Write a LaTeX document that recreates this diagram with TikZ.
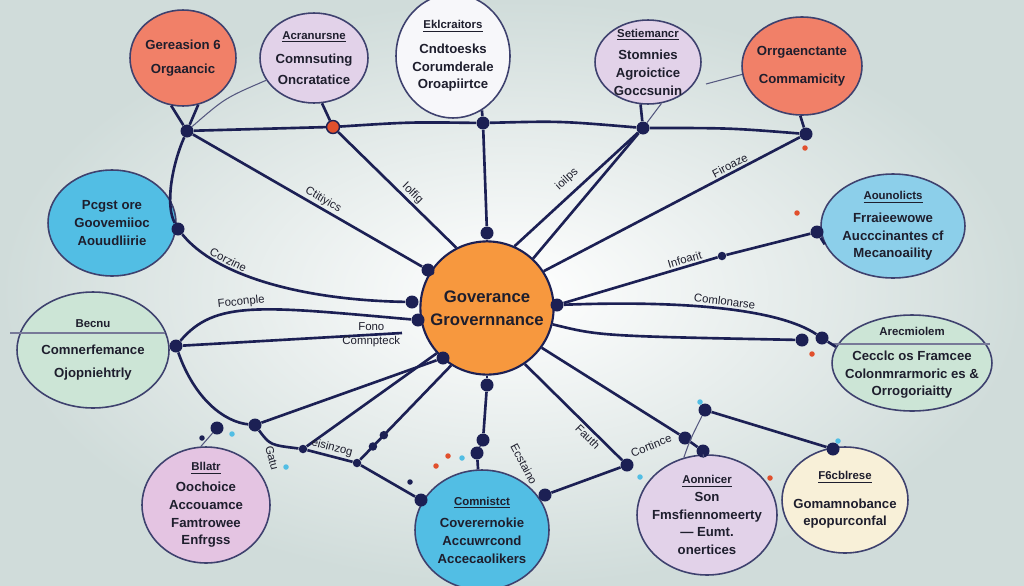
\documentclass[tikz,border=0pt]{standalone}
\usepackage{fontspec}
\setmainfont{Liberation Sans}
\usetikzlibrary{shapes.geometric,calc}
\definecolor{navy}{RGB}{28,32,84}
\definecolor{ink}{RGB}{30,30,45}
\definecolor{salmon}{RGB}{241,128,104}
\definecolor{lilac}{RGB}{226,210,233}
\definecolor{pearl}{RGB}{247,247,250}
\definecolor{sky}{RGB}{82,190,228}
\definecolor{ice}{RGB}{140,207,234}
\definecolor{mint}{RGB}{204,229,214}
\definecolor{rose}{RGB}{228,196,226}
\definecolor{cream}{RGB}{248,240,216}
\definecolor{tangerine}{RGB}{247,152,62}
\definecolor{mist}{RGB}{208,220,218}
\definecolor{ember}{RGB}{225,80,45}
\newcommand{\hd}[1]{{\fontsize{6.5}{8}\selectfont\underline{#1}}}
\newcommand{\hn}[1]{{\fontsize{6.5}{8}\selectfont #1}}
\tikzset{
  bubble/.style={ellipse,draw=navy!85,line width=0.9pt,fill=#1,inner sep=0pt},
  bubble/.default=lilac,
  btext/.style={font=\fontsize{7.5}{10}\selectfont\bfseries,text=ink,align=center},
  hub/.style={circle,fill=navy,inner sep=0pt,minimum size=#1},
  hub/.default=2.6mm,
  link/.style={draw=navy,line width=1.5pt},
  wire/.style={draw=navy!75,line width=0.6pt},
  tag/.style={font=\fontsize{6.5}{8}\selectfont,text=ink,inner sep=1pt},
  lbl/.style={tag,sloped,above},
  speck/.style={circle,fill=#1,inner sep=0pt,minimum size=1.1mm},
  speck/.default=sky,
}

\begin{document}
\begin{tikzpicture}[x=0.02cm,y=-0.02cm]
  \useasboundingbox (0,0) rectangle (1024,585);
  \shade[inner color=white,outer color=mist] (0,0) rectangle (1024,585);
  % bubbles
  \foreach \x/\y/\rx/\ry/\c/\t [count=\i] in {
    183/58/53/48/salmon/{Gereasion 6\\[4pt]Orgaancic},
    314/58/54/45/lilac/{\hd{Acranursne}\\[4pt]Comnsuting\\[2pt]Oncratatice},
    453/56/57/62/pearl/{\hd{Eklcraitors}\\[4pt]Cndtoesks\\Corumderale\\Oroapiirtce},
    648/62/53/42/lilac/{\hd{Setiemancr}\\[3pt]Stomnies\\Agroictice\\Goccsunin},
    802/66/60/49/salmon/{Orrgaenctante\\[6pt]Commamicity},
    112/223/64/53/sky/{Pcgst ore\\Goovemiioc\\Aouudliirie},
    93/350/76/58/mint/{\hn{Becnu}\\[5pt]Comnerfemance\\[3pt]Ojopniehtrly},
    893/226/72/52/ice/{\hd{Aounolicts}\\[3pt]Frraieewowe\\Aucccinantes cf\\Mecanoaility},
    912/363/80/48/mint/{\hn{Arecmiolem}\\[4pt]Cecclc os Framcee\\Colonmrarmoric es \&\\Orrogoriaitty},
    206/505/64/58/rose/{\hd{Bllatr}\\[2pt]Oochoice\\Accouamce\\Famtrowee\\Enfrgss},
    482/530/67/60/sky/{\hd{Comnistct}\\[3pt]Coverernokie\\Accuwrcond\\Accecaolikers},
    707/515/70/60/lilac/{\hd{Aonnicer}\\Son\\Fmsfiennomeerty\\--- Eumt.\\onertices},
    845/500/63/53/cream/{\hd{F6cblrese}\\[6pt]Gomamnobance\\epopurconfal}}
  {
    \node[bubble=\c,minimum width=\rx*0.4mm,minimum height=\ry*0.4mm] (b\i) at (\x,\y) {};
    \node[btext] (t\i) at (b\i) {\t};
  }
  \draw[wire,navy!60] (10,333) -- (165,333);
  \draw[wire,navy!60] (833,344) -- (990,344);
  \node[circle,draw=navy,line width=1.2pt,fill=tangerine,minimum size=2.54cm,
    font=\fontsize{9.5}{13}\selectfont\bfseries,text=ink,align=center] (gov) at (487,308) {Goverance\\Grovernnance};
  % hubs
  \foreach \n/\x/\y in {h1/187/131,h3/483/123,h4/643/128,h5/806/134,h6/178/229,
    h7/176/346,h8/255/425,h11/817/232,h12/822/338,h12b/802/340,h14/705/410,
    h15/685/438,h16/703/451,h17/627/465,h18/833/449,h19/483/440,h20/477/453,
    h21/545/495,h22/421/500,h23/217/428,c1/487/233,c2/428/270,c3/412/302,c3b/418/320,
    c4/557/305,c5/487/385,c6/443/358}
    \node[hub] (\n) at (\x,\y) {};
  \foreach \n/\x/\y in {h9/303/449,h10/357/463,h13/722/256}
    \node[hub=1.7mm] (\n) at (\x,\y) {};
  \node[hub,fill=ember,draw=navy,line width=0.8pt] (h2) at (333,127) {};
  % top row
  \draw[link] (b1.-104) -- (h1);
  \draw[link] (b1.-72) -- (h1);
  \draw[wire] (b2.205) .. controls (225,98) .. (h1);
  \draw[link] (b2.-80) -- (h2);
  \draw[link] (b3.-62) -- (h3);
  \draw[link] (b4.-100) -- (h4);
  \draw[wire] (b4.-72) -- (h4);
  \draw[link] (b5.-92) -- (h5);
  \coordinate (p5) at (706,84);
  \draw[wire] (b5.188) -- (p5);
  \draw[link] (h1) .. controls (260,128) .. (h2);
  \draw[link] (h2) .. controls (410,122) .. (h3);
  \draw[link] (h3) .. controls (560,121) .. (h4);
  \draw[link] (h4) .. controls (730,128) .. (h5);
  % spokes
  \draw[link] (h1) -- node[lbl,pos=.55] (l1) {Ctitiyics} (c2);
  \draw[link] (c2) -- (gov);
  \draw[link] (h2) -- node[lbl,pos=.58] (l2) {Iolfig} (gov.117);
  \draw[link] (h3) -- (c1);
  \draw[link] (c1) -- (gov);
  \draw[link] (gov.66) -- node[lbl,pos=.5,above=3pt] (l3) {ioilps} (h4);
  \draw[link] (gov.47) -- (h4);
  \draw[link] (gov.33) -- node[lbl,pos=.74] (l4) {Firoaze} (h5);
  \draw[link] (c4) -- node[lbl,pos=.8] (l5) {Infoarit} (h13);
  \draw[link] (h13) -- (h11);
  \draw[link] (h11) -- (b8.195);
  \draw[link] (c4) .. controls (690,300) and (780,310) .. node[lbl,pos=.5] (l6) {Comlonarse} (h12);
  \draw[link] (gov.-14) .. controls (600,336) .. (h12b);
  \draw[link] (h12) -- (b9.168);
  % left side
  \draw[link] (h1) .. controls (172,165) and (165,205) .. (h6);
  \draw[link] (h6) .. controls (215,275) and (300,300) .. node[lbl,pos=.3] (l7) {Corzine} (c3);
  \draw[link] (h7) .. controls (215,300) and (260,306) .. node[lbl,pos=.45] (l8) {Foconple} (c3b);
  \coordinate (p7) at (402,333);
  \draw[link] (h7) -- node[tag,align=center,pos=.86] (l9) {Fono\\Comnpteck} (p7);
  \draw[link] (h7) .. controls (195,400) and (225,422) .. (h8);
  \draw[link] (h8) -- (c6);
  \draw[link] (h8) .. controls (270,445) .. (h9);
  \draw[link] (h9) -- (gov.222);
  \draw[link] (h9) -- node[lbl,pos=.5] (l10) {eisinzog} (h10);
  \draw[link] (h10) -- node[hub=1.7mm,pos=.14] (k1) {} node[hub=1.7mm,pos=.26] (k2) {} (gov.238);
  \draw[link] (h10) -- (h22);
  \draw[wire] (h23) -- (b10.95);
  \node[tag,rotate=-75] (l14) at (272,458) {Gatu};
  % bottom
  \draw[link] (gov) -- (c5);
  \draw[link] (c5) -- (h19) -- (h20);
  \draw[link] (h20) -- (b11);
  \draw[link] (gov.-56) -- node[tag,sloped,below,pos=.7] (l11) {Fauth} (h17);
  \draw[link] (h21) -- (h17);
  \node[tag,rotate=22,anchor=south west] (l12) at (h17.north east) {Cortince};
  \node[tag,rotate=-62] (l13) at (524,464) {Ecstaino};
  \draw[link] (gov.-36) -- (h15);
  \draw[link] (h15) -- (h16);
  \draw[wire] (h16) -- (b12);
  \draw[link] (h14) -- (h18);
  \draw[wire] (h14) .. controls (690,440) .. (b12.112);
  % specks
  \foreach \x/\y/\c [count=\i] in {805/148/ember,797/213/ember,812/354/ember,838/441/sky,
    770/478/ember,640/477/sky,448/456/ember,436/466/ember,462/458/sky,410/482/navy,
    202/438/navy,232/434/sky,286/467/sky,700/402/sky}
    \node[speck=\c] (s\i) at (\x,\y) {};
\end{tikzpicture}
\end{document}
